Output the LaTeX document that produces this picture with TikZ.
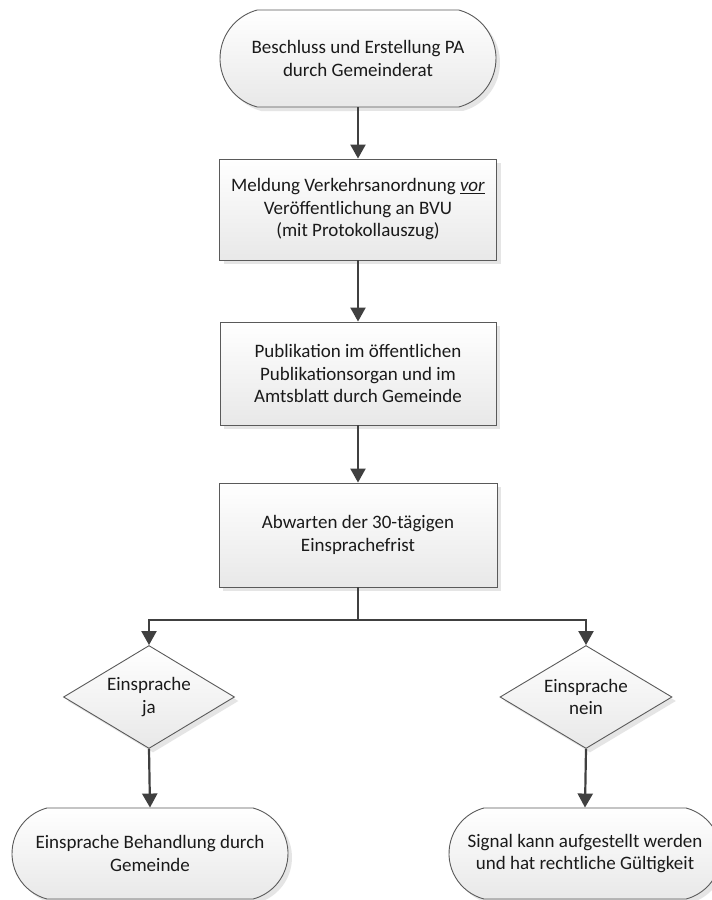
\documentclass[tikz,border=0pt]{standalone}
\usepackage{fontspec}
\setmainfont{Carlito}
\usetikzlibrary{shapes.geometric,shapes.misc,shadows,arrows.meta}
\definecolor{edge}{HTML}{5A5A5A}
\definecolor{arrowc}{HTML}{404040}
\definecolor{txt}{HTML}{1A1A1A}
\tikzset{
  base/.style={draw=edge, line width=0.9pt, top color=white, bottom color=black!9,
    drop shadow={shadow xshift=4pt, shadow yshift=-4pt, fill=black!10, opacity=1},
    align=center, text=txt, inner sep=0pt, font=\fontsize{19}{22.5}\selectfont},
  term/.style={base, rounded rectangle, rounded rectangle arc length=150},
  proc/.style={base, rectangle},
  dec/.style={base, diamond, aspect=1.66},
  arr/.style={draw=arrowc, line width=2.2pt, -{Triangle[width=15pt,length=14pt]}},
}
\begin{document}
\begin{tikzpicture}[x=1pt,y=-1pt]
\clip (0,0) rectangle (712,900);
\fill[white] (0,0) rectangle (712,900);
\node[term, minimum width=276pt, minimum height=97pt] (t1) at (358,58.5) {Beschluss und Erstellung PA\\durch Gemeinderat};
\node[proc, minimum width=277pt, minimum height=101pt] (b2) at (358,209.5) {Meldung Verkehrsanordnung \underline{\textit{vor}}\\Veröffentlichung an BVU\\(mit Protokollauszug)};
\node[proc, minimum width=276pt, minimum height=103pt] (b3) at (358,373.5) {Publikation im öffentlichen\\Publikationsorgan und im\\Amtsblatt durch Gemeinde};
\node[proc, minimum width=278pt, minimum height=104pt] (b4) at (358,535) {Abwarten der 30-tägigen\\Einsprachefrist};
\node[dec, minimum width=171pt, minimum height=103pt] (d1) at (149,697) {Einsprache\\ja};
\node[dec, minimum width=172pt, minimum height=103pt] (d2) at (586,697) {Einsprache\\nein};
\node[term, minimum width=276pt, minimum height=91pt] (t2) at (150,853.5) {Einsprache Behandlung durch\\Gemeinde};
\node[term, minimum width=272pt, minimum height=91pt] (t3) at (585,853.5) {Signal kann aufgestellt werden\\und hat rechtliche Gültigkeit};
\coordinate (j) at (358,620);
\draw[arr] (t1.south) -- (b2.north);
\draw[arr] (b2.south) -- (b3.north);
\draw[arr] (b3.south) -- (b4.north);
\draw[arr] (b4.south) -- (j) -| (d1.north);
\draw[arr] (j) -| (d2.north);
\draw[arr] (d1.south) -- (t2.north);
\draw[arr] (d2.south) -- (t3.north);
\end{tikzpicture}
\end{document}
